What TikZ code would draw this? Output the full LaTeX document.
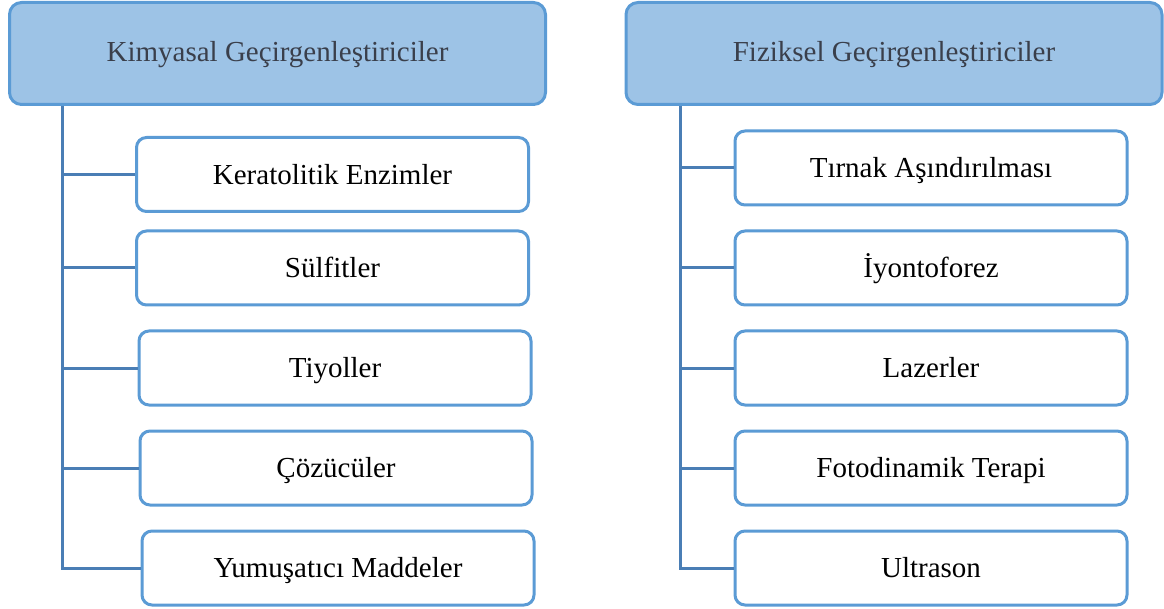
\documentclass[tikz,border=0pt]{standalone}
\usepackage{fontspec}
\setmainfont{Liberation Serif}
\definecolor{hdrfill}{HTML}{9DC3E6}
\definecolor{boxline}{HTML}{5B9BD5}
\definecolor{conline}{HTML}{4A7EB5}
\definecolor{hdrtext}{HTML}{3A3F4B}
\begin{document}
\begin{tikzpicture}[x=1pt,y=-1pt,
  hdr/.style={draw=boxline, fill=hdrfill, line width=3pt, rounded corners=12pt,
    minimum width=536pt, minimum height=102pt, inner sep=0pt,
    text height=19.2pt, text depth=4pt,
    text=hdrtext, font=\fontsize{29}{34}\selectfont},
  item/.style={draw=boxline, fill=white, line width=3pt, rounded corners=10pt,
    minimum width=392pt, minimum height=74pt, inner sep=0pt,
    text height=19.2pt, text depth=0pt,
    font=\fontsize{29}{34}\selectfont},
  con/.style={draw=conline, line width=3pt}]
\useasboundingbox (0,0) rectangle (1164,609);
% headers
\node[hdr] (kh) at (277.5,53.5) {Kimyasal Geçirgenleştiriciler};
\node[hdr] (fh) at (894,53.5) {Fiziksel Geçirgenleştiriciler};
% left items
\node[item] (k1) at (332.5,174.5) {Keratolitik Enzimler};
\node[item] (k2) at (332.5,268) {Sülfitler};
\node[item] (k3) at (335,368) {Tiyoller};
\node[item] (k4) at (336,468) {Çözücüler};
\node[item] (k5) at (338,568) {Yumuşatıcı Maddeler};
% right items
\node[item] (f1) at (931,168) {Tırnak Aşındırılması};
\node[item] (f2) at (931,268) {İyontoforez};
\node[item] (f3) at (931,368) {Lazerler};
\node[item] (f4) at (931,468) {Fotodinamik Terapi};
\node[item] (f5) at (931,568) {Ultrason};
% connectors
\coordinate (kv) at (62,106);
\coordinate (fv) at (680,106);
\draw[con] (kv) |- (k5.west);
\foreach \n in {k1,k2,k3,k4} \draw[con] (\n.west -| kv) -- (\n.west);
\draw[con] (fv) |- (f5.west);
\foreach \n in {f1,f2,f3,f4} \draw[con] (\n.west -| fv) -- (\n.west);
\end{tikzpicture}
\end{document}
